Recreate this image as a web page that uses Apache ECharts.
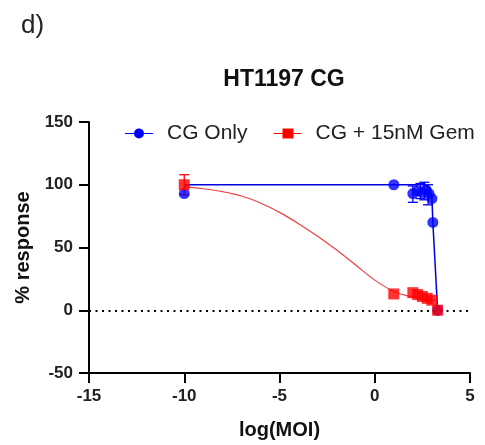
<!DOCTYPE html>
<html>
<head>
<meta charset="utf-8">
<title>HT1197 CG</title>
<script src="https://cdn.jsdelivr.net/npm/echarts@6/dist/echarts.min.js"></script>
</head>
<body style="margin:0">
<div id="main" style="width:485px;height:445px;"></div>
<script type="text/javascript">
// measured points [log(MOI), % response]
var cgOnly = [[-10, 93], [1, 100], [2.0, 93], [2.25, 95], [2.5, 94], [2.7, 96], [2.85, 93], [3.0, 89], [3.05, 70], [3.3, 0]];
var cgGem = [[-10, 100], [1, 13], [2.0, 14], [2.25, 12.5], [2.5, 11], [2.75, 9.5], [3.0, 8], [3.3, 0]];
// error bars [x, low, high]
var cgOnlyErr = [[2.0, 86, 99], [2.4, 89, 101], [2.6, 88, 102], [2.8, 84, 100]];
var cgGemErr = [[-10, 92, 108]];
// fitted curves
var cgOnlyFit = [[-10, 100], [2.6, 100], [2.9, 97], [3.0, 90], [3.05, 70], [3.3, 0]];
var cgGemFit = [[-10, 98.5], [-9, 96.8], [-8, 94.5], [-7, 91], [-6, 85.5], [-5, 78], [-4, 69], [-3, 59], [-2, 48], [-1, 36], [0, 24], [1, 15], [2, 10.5], [3, 8], [3.3, 7.5]];
var xTicks = [-15, 5, 5];   // min, max, step
var yTicks = [-50, 150, 50];

var BLUE = '#0000ff', RED = '#ff0000';

var iconCircle = 'path://M0,4.4H9V5.6H0Z M19,4.4H28V5.6H19Z M19,5A5,5 0 1,1 9,5A5,5 0 1,1 19,5Z';
var iconSquare = 'path://M0,4.4H9V5.6H0Z M20,4.4H28V5.6H20Z M9,0H20V10H9Z';

function errRender(params, api) {
    var x = api.value(0);
    var lo = api.coord([x, api.value(1)]);
    var hi = api.coord([x, api.value(2)]);
    var w = 5;
    var st = {stroke: api.visual('color'), lineWidth: 1.3};
    return {
        type: 'group',
        children: [
            {type: 'line', shape: {x1: lo[0], y1: lo[1], x2: hi[0], y2: hi[1]}, style: st},
            {type: 'line', shape: {x1: lo[0] - w, y1: lo[1], x2: lo[0] + w, y2: lo[1]}, style: st},
            {type: 'line', shape: {x1: hi[0] - w, y1: hi[1], x2: hi[0] + w, y2: hi[1]}, style: st}
        ]
    };
}

var myChart = echarts.init(document.getElementById('main'));

var option = {
    animation: false,
    textStyle: {fontFamily: 'Liberation Sans, Arial, sans-serif'},
    title: {
        text: 'HT1197 CG',
        left: 279,
        top: 63,
        textAlign: 'center',
        textStyle: {fontSize: 23, fontWeight: 'bold', color: '#111'}
    },
    graphic: [{
        type: 'text', left: 21, top: 13,
        style: {text: 'd)', fill: '#222', font: '26px Liberation Sans, Arial, sans-serif'}
    }],
    legend: {
        left: 125,
        top: 123,
        padding: 0,
        itemWidth: 28,
        itemHeight: 10,
        itemGap: 26,
        textStyle: {fontSize: 21, color: '#222', padding: [0, 0, 0, 9]},
        data: [
            {name: 'CG Only', icon: iconCircle},
            {name: 'CG + 15nM Gem', icon: iconSquare}
        ]
    },
    grid: {left: 89, right: 15, top: 122, bottom: 68},
    xAxis: {
        type: 'value',
        min: xTicks[0], max: xTicks[1], interval: xTicks[2],
        name: 'log(MOI)',
        nameLocation: 'middle',
        nameGap: 47,
        nameTextStyle: {fontSize: 20, fontWeight: 'bold', color: '#111'},
        axisLine: {onZero: false, lineStyle: {color: '#000', width: 2}},
        axisTick: {length: 10, lineStyle: {width: 2, color: '#000'}},
        axisLabel: {fontSize: 17, fontWeight: 'bold', color: '#222', margin: 15},
        splitLine: {show: false}
    },
    yAxis: {
        type: 'value',
        min: yTicks[0], max: yTicks[1], interval: yTicks[2],
        name: '% response',
        nameLocation: 'middle',
        nameRotate: 90,
        nameGap: 54,
        nameTextStyle: {fontSize: 20, fontWeight: 'bold', color: '#111'},
        axisLine: {show: true, onZero: false, lineStyle: {color: '#000', width: 2}},
        axisTick: {show: true, length: 10, lineStyle: {width: 2, color: '#000'}},
        axisLabel: {fontSize: 17, fontWeight: 'bold', color: '#222', margin: 16},
        splitLine: {show: false}
    },
    series: [{
        name: 'CG Only',
        type: 'line',
        data: cgOnlyFit,
        showSymbol: false,
        color: BLUE,
        lineStyle: {width: 1.5, color: '#0000dd'},
        z: 2,
        markLine: {
            silent: true,
            symbol: 'none',
            label: {show: false},
            lineStyle: {type: [2, 4.5], color: '#000', width: 1.8},
            data: [[{coord: [xTicks[0], 0]}, {coord: [xTicks[1], 0]}]]
        }
    }, {
        name: 'CG + 15nM Gem',
        type: 'line',
        data: cgGemFit,
        showSymbol: false,
        smooth: 0.3,
        color: RED,
        lineStyle: {width: 1.2, color: '#ee4040'},
        z: 2
    }, {
        name: 'CG Only',
        type: 'custom',
        data: cgOnlyErr,
        color: BLUE,
        renderItem: errRender,
        z: 3
    }, {
        name: 'CG + 15nM Gem',
        type: 'custom',
        data: cgGemErr,
        color: RED,
        renderItem: errRender,
        z: 3
    }, {
        name: 'CG Only',
        type: 'scatter',
        data: cgOnly,
        symbol: 'circle',
        symbolSize: 11,
        color: BLUE,
        z: 4
    }, {
        name: 'CG + 15nM Gem',
        type: 'scatter',
        data: cgGem,
        symbol: 'rect',
        symbolSize: 11,
        color: RED,
        z: 5
    }]
};

myChart.setOption(option);
</script>
</body>
</html>
